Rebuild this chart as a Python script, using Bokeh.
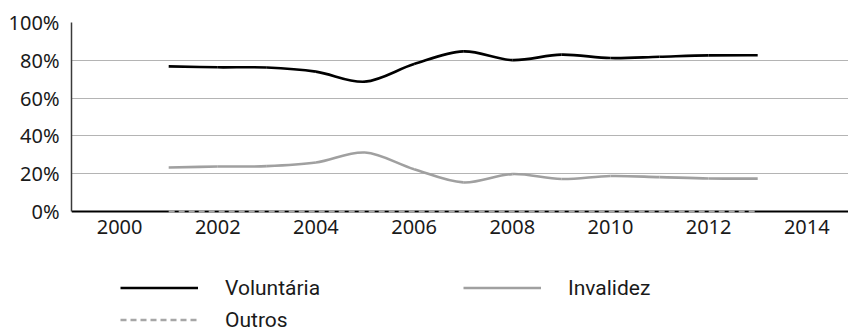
from bokeh.plotting import figure
from bokeh.models import Range1d, Legend, LegendItem, FixedTicker
from bokeh.embed import file_html
from bokeh.resources import INLINE

# ---- data ----
years = [2001, 2002, 2003, 2004, 2005, 2006, 2007, 2008, 2009, 2010, 2011, 2012, 2013]
voluntaria = [76.8, 76.3, 76.2, 74.0, 68.7, 78.0, 84.7, 80.1, 83.0, 81.2, 81.9, 82.6, 82.7]
invalidez = [23.3, 23.8, 24.0, 25.9, 31.2, 22.4, 15.4, 19.8, 17.2, 18.8, 18.2, 17.5, 17.4]
outros = [0, 0, 0, 0, 0, 0, 0, 0, 0, 0, 0, 0, 0]
series_names = ["Voluntária", "Invalidez", "Outros"]
x_ticks = [2000, 2002, 2004, 2006, 2008, 2010, 2012, 2014]
y_ticks = [0, 20, 40, 60, 80, 100]
y_tick_labels = ["0%", "20%", "40%", "60%", "80%", "100%"]


def smooth_segments(xs, ys):
    """Cubic Bezier segments through the data points (Catmull-Rom style smoothing)."""
    n = len(xs)
    seg = dict(x0=[], y0=[], x1=[], y1=[], cx0=[], cy0=[], cx1=[], cy1=[])
    for i in range(n - 1):
        a = i - 1 if i > 0 else i
        d = i + 2 if i + 2 < n else i + 1
        seg["x0"].append(xs[i]); seg["y0"].append(ys[i])
        seg["x1"].append(xs[i + 1]); seg["y1"].append(ys[i + 1])
        seg["cx0"].append(xs[i] + (xs[i + 1] - xs[a]) / 6.0)
        seg["cy0"].append(ys[i] + (ys[i + 1] - ys[a]) / 6.0)
        seg["cx1"].append(xs[i + 1] - (xs[d] - xs[i]) / 6.0)
        seg["cy1"].append(ys[i + 1] - (ys[d] - ys[i]) / 6.0)
    return seg


TICK_FONT = "Noto Sans"
LEGEND_FONT = "Roboto"

# frame spans down to the bottom of the page; the x axis sits at y = 0
p = figure(width=848, height=332,
           x_range=Range1d(1999.02, 2014.85), y_range=Range1d(-64.0, 100),
           output_backend="svg", toolbar_location=None,
           min_border_left=71, min_border_right=0, min_border_top=22, min_border_bottom=0)
p.outline_line_color = None
p.background_fill_color = "white"
p.border_fill_color = "white"

# grid
p.xgrid.visible = False
p.ygrid.ticker = FixedTicker(ticks=y_ticks)
p.ygrid.grid_line_color = "#b4b4b4"
p.ygrid.grid_line_width = 1.2

# axes
p.xaxis.ticker = FixedTicker(ticks=x_ticks)
p.xaxis.major_label_overrides = {t: str(t) for t in x_ticks}
p.xaxis.fixed_location = 0
p.yaxis.ticker = FixedTicker(ticks=y_ticks)
p.yaxis.major_label_overrides = {t: l for t, l in zip(y_ticks, y_tick_labels)}
p.yaxis.bounds = (0, 100)
for ax in (p.xaxis, p.yaxis):
    ax.major_tick_line_color = None
    ax.minor_tick_line_color = None
    ax.major_tick_out = 0
    ax.major_tick_in = 0
    ax.major_label_text_font = TICK_FONT
    ax.major_label_text_font_size = "20px"
    ax.major_label_text_color = "#1a1a1a"
p.xaxis.axis_line_color = "#000000"
p.xaxis.axis_line_width = 2
p.xaxis.major_label_standoff = 8
p.yaxis.axis_line_color = "#3a3a3a"
p.yaxis.axis_line_width = 1.5
p.yaxis.major_label_standoff = 12

sv = smooth_segments(years, voluntaria)
si = smooth_segments(years, invalidez)

r_vol = p.bezier(x0=sv["x0"], y0=sv["y0"], x1=sv["x1"], y1=sv["y1"],
                 cx0=sv["cx0"], cy0=sv["cy0"], cx1=sv["cx1"], cy1=sv["cy1"],
                 line_color="#000000", line_width=2.6)
r_inv = p.bezier(x0=si["x0"], y0=si["y0"], x1=si["x1"], y1=si["y1"],
                 cx0=si["cx0"], cy0=si["cy0"], cx1=si["cx1"], cy1=si["cy1"],
                 line_color="#a0a0a0", line_width=2.6)
r_out = p.line(years, outros, line_color="#a6a6a6", line_width=2.6, line_dash="6 4")
r_out.level = "overlay"

legend = Legend(items=[LegendItem(label=series_names[0], renderers=[r_vol]),
                       LegendItem(label=series_names[1], renderers=[r_inv]),
                       LegendItem(label=series_names[2], renderers=[r_out])],
                location=(49, 0), orientation="horizontal", ncols=2,
                glyph_width=78, glyph_height=25, label_height=25, label_standoff=27,
                label_width=231, spacing=7, padding=0, margin=0,
                border_line_alpha=0, background_fill_alpha=0,
                label_text_font=LEGEND_FONT, label_text_font_size="21px",
                label_text_color="#1a1a1a")
p.add_layout(legend)

open("out.html", "w").write(file_html(p, INLINE))
